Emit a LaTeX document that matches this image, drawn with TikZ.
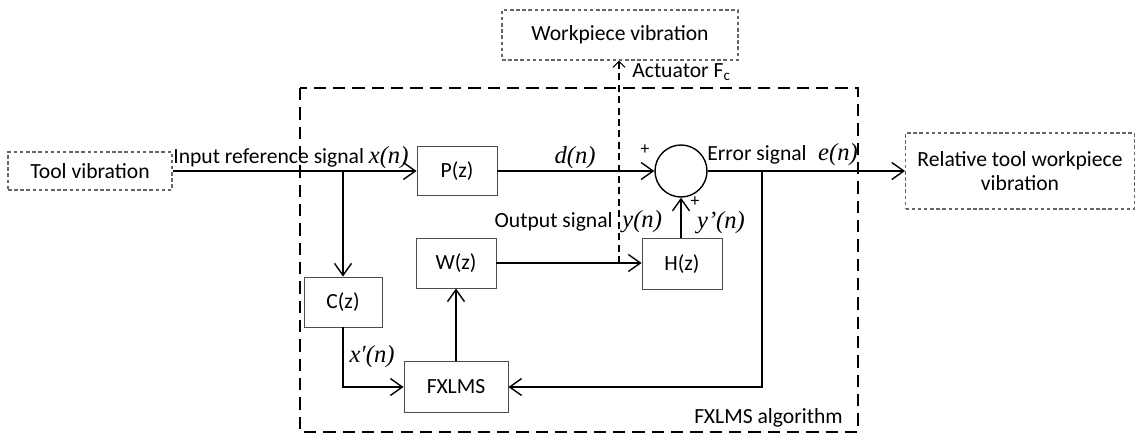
\documentclass[tikz,border=0pt]{standalone}
\usepackage{fontspec}
\setmainfont{Carlito}
\newfontfamily\tms{Liberation Serif}
\usetikzlibrary{arrows.meta}
\begin{document}
\begin{tikzpicture}[x=0.02cm,y=-0.02cm,
  font=\fontsize{12.3}{14}\selectfont,
  blk/.style={draw=black!70, line width=0.5pt, inner sep=0pt},
  dotbox/.style={draw=black!60, line width=0.6pt, dash pattern=on 2pt off 1.5pt, inner sep=0pt},
  sig/.style={line width=0.8pt, -{Straight Barb[length=2.4mm,width=3.4mm,line width=0.8pt]}},
  math/.style={font=\tms\itshape\fontsize{14}{16}\selectfont},
  pm/.style={font=\fontsize{10}{12}\selectfont, inner sep=0pt}]
\useasboundingbox (0,0) rectangle (1137,434);

% algorithm frame
\draw[line width=1.1pt, dash pattern=on 7pt off 4pt] (300,88) rectangle (858,432);

% outer boxes
\node[dotbox, minimum width=3.28cm, minimum height=0.76cm] (tool) at (90,171) {Tool vibration};
\node[dotbox, minimum width=4.72cm, minimum height=1.0cm] (work) at (620,35) {Workpiece vibration};
\node[dotbox, minimum width=4.58cm, minimum height=1.52cm, align=center] (rel) at (1020,171)
  {Relative tool workpiece\\vibration};

% blocks
\node[blk, minimum width=1.6cm, minimum height=0.98cm] (P) at (457,171) {P(z)};
\node[blk, minimum width=1.6cm, minimum height=1.0cm] (W) at (456,263) {W(z)};
\node[blk, minimum width=1.56cm, minimum height=1.0cm] (C) at (343,302) {C(z)};
\node[blk, minimum width=2.08cm, minimum height=1.02cm] (F) at (456,387) {FXLMS};
\node[blk, minimum width=1.6cm, minimum height=1.02cm] (H) at (682,264) {H(z)};
\node[draw, line width=0.8pt, circle, minimum size=1.04cm, inner sep=0pt] (S) at (681,171) {};

% branch points
\coordinate (b1) at (343,171);
\coordinate (b2) at (762,171);
\coordinate (act) at (619,263);

% signal paths
\draw[sig] (tool.east) -- (P.west);
\draw[sig] (b1) -- (C.north);
\draw[sig] (C.south) |- (F.west);
\draw[sig] (F.north) -- (W.south);
\draw[sig] (W.east) -- (W.east -| H.west);
\draw[sig] (P.east) -- (S.west);
\draw[sig] (H.north -| S.south) -- (S.south);
\draw[sig] (S.east) -- (rel.west);
\draw[sig] (b2) |- (F.east);

% actuator force
\draw[line width=0.8pt, dash pattern=on 4pt off 2.5pt,
  -{Straight Barb[length=1.2mm,width=2.4mm,line width=0.6pt]}] (act) -- (act |- work.south);

% labels
\node[anchor=base west, inner sep=0pt] at (173,163) {Input reference signal {\tms\itshape\fontsize{14}{16}\selectfont x(n)}};
\node[math, anchor=base, inner sep=0pt] at (575,163) {d(n)};
\node[pm] at (645,150) {+};
\node[anchor=base west, inner sep=0pt] at (707,160) {Error signal};
\node[math, anchor=base, inner sep=0pt] at (838,160) {e(n)};
\node[anchor=base east, inner sep=0pt] at (613,227) {Output signal};
\node[math, anchor=base west, inner sep=0pt] at (622,227) {y(n)};
\node[pm] at (695,202) {+};
\node[math, anchor=base, inner sep=0pt] at (721,228) {y’(n)};
\node[math, anchor=base, inner sep=0pt] at (372,362) {x′(n)};
\node[anchor=base west, inner sep=0pt] at (632,77) {Actuator F\textsubscript{c}};
\node[anchor=base east, inner sep=0pt] at (843,423) {FXLMS algorithm};
\end{tikzpicture}
\end{document}
